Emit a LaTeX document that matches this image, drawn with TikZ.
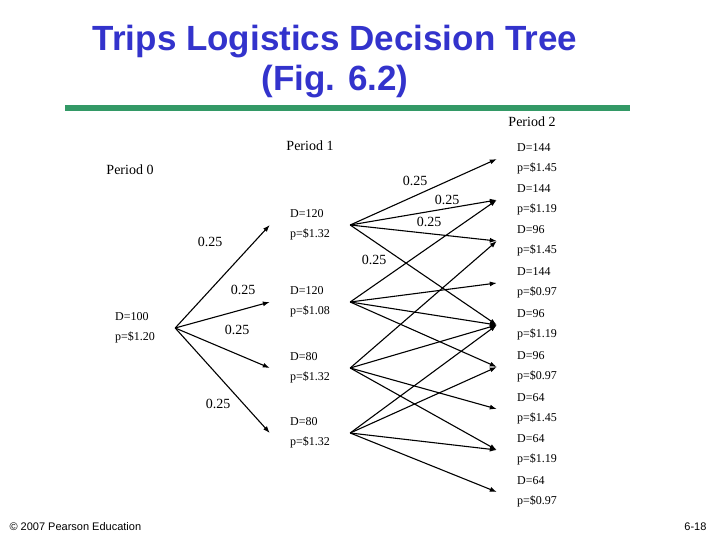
\documentclass[tikz,border=0pt]{standalone}
\usepackage{fontspec}
\setmainfont{Liberation Serif}
\newfontfamily\arialf{Liberation Sans}
\usetikzlibrary{shapes.geometric,arrows.meta}
\definecolor{titleblue}{RGB}{51,51,204}
\definecolor{rulegreen}{RGB}{51,153,102}
\begin{document}
\begin{tikzpicture}[x=1pt,y=-1pt,
  st/.style={ellipse,minimum width=80pt,minimum height=40pt,inner sep=0pt,align=left,font=\fontsize{12}{20}\selectfont},
  ar/.style={-{Latex[length=7pt,width=5pt]},line width=1.1pt},
  lbl/.style={font=\fontsize{14}{16}\selectfont}]
\useasboundingbox (0,0) rectangle (720,540);
\node[font=\arialf\bfseries\fontsize{35}{40}\selectfont,text=titleblue,align=center] (title) at (335,62) {Trips Logistics Decision Tree\\(Fig. 6.2)};
\draw[rulegreen,line width=6pt] (65,108) -- (630,108);
\node[lbl] (p0) at (130,170) {Period 0};
\node[lbl] (p1) at (310,146) {Period 1};
\node[lbl] (p2) at (532,122) {Period 2};
\node[st] (r) at (135,328) {D=100\\p=\$1.20};
\node[st] (a) at (310,225) {D=120\\p=\$1.32};
\node[st] (b) at (310,302) {D=120\\p=\$1.08};
\node[st] (c) at (310,368) {D=80\\p=\$1.32};
\node[st] (d) at (310,433) {D=80\\p=\$1.32};
\node[st] (n1) at (537,159) {D=144\\p=\$1.45};
\node[st] (n2) at (537,200) {D=144\\p=\$1.19};
\node[st] (n3) at (537,241) {D=96\\p=\$1.45};
\node[st] (n4) at (537,283) {D=144\\p=\$0.97};
\node[st] (n5) at (537,325) {D=96\\p=\$1.19};
\node[st] (n6) at (537,367) {D=96\\p=\$0.97};
\node[st] (n7) at (537,409) {D=64\\p=\$1.45};
\node[st] (n8) at (537,450) {D=64\\p=\$1.19};
\node[st] (n9) at (537,492) {D=64\\p=\$0.97};
\foreach \t in {a,b,c,d} \draw[ar] (r.east) -- (\t.west);
\foreach \t in {n1,n2,n3,n5} \draw[ar] (a.east) -- (\t.west);
\foreach \t in {n2,n4,n5,n6} \draw[ar] (b.east) -- (\t.west);
\foreach \t in {n3,n5,n7,n8} \draw[ar] (c.east) -- (\t.west);
\foreach \t in {n5,n6,n8,n9} \draw[ar] (d.east) -- (\t.west);
\node[lbl] (l1) at (210,242) {0.25};
\node[lbl] (l2) at (243,290) {0.25};
\node[lbl] (l3) at (237,330) {0.25};
\node[lbl] (l4) at (218,404) {0.25};
\node[lbl] (l5) at (415,181) {0.25};
\node[lbl] (l6) at (447,200) {0.25};
\node[lbl] (l7) at (429,222) {0.25};
\node[lbl] (l8) at (374,260) {0.25};
\node[font=\arialf\fontsize{11}{13}\selectfont,anchor=west] (foot) at (6,527) {© 2007 Pearson Education};
\node[font=\arialf\fontsize{11}{13}\selectfont,anchor=east] (pg) at (710,527) {6-18};
\end{tikzpicture}
\end{document}
